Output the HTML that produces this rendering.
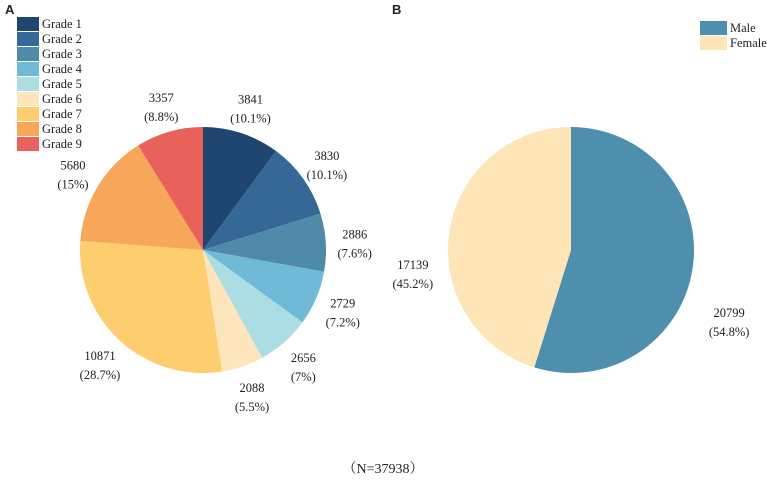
<!DOCTYPE html>
<html><head><meta charset="utf-8"><style>
body{margin:0;background:#fff;width:767px;height:481px;overflow:hidden}
svg text{font-family:"Liberation Serif",serif;font-size:12.5px;fill:#222}
</style></head><body>
<svg id="c" width="767" height="481">
<text x="5" y="14" style="font-family:'Liberation Sans',sans-serif;font-weight:bold;font-size:13px">A</text>
<text x="392" y="14" style="font-family:'Liberation Sans',sans-serif;font-weight:bold;font-size:13px">B</text>
<text x="383" y="473" text-anchor="middle" style="font-family:'Liberation Serif','Noto Serif CJK SC',serif;font-size:14px">（N=37938）</text>
</svg>
<script>
const gradeNames=["Grade 1","Grade 2","Grade 3","Grade 4","Grade 5","Grade 6","Grade 7","Grade 8","Grade 9"];
const gradeValues=[3841,3830,2886,2729,2656,2088,10871,5680,3357];
const gradePct=["10.1%","10.1%","7.6%","7.2%","7%","5.5%","28.7%","15%","8.8%"];
const gradeColors=["#1f4571","#356797","#4f8aa9","#6fbad6","#abdde2","#fde5bc","#fdcd6e","#f6a75a","#e8615a"];
const sexNames=["Male","Female"];
const sexValues=[20799,17139];
const sexPct=["54.8%","45.2%"];
const sexColors=["#4f8fae","#fde5b8"];
const svg=document.getElementById('c');
const NS='http://www.w3.org/2000/svg';
function mk(t,a){const e=document.createElementNS(NS,t);for(const k in a)e.setAttribute(k,a[k]);svg.appendChild(e);return e;}
function pie(cx,cy,r,vals,cols,pcts,prefix,lr,dy){
  const tot=vals.reduce((a,b)=>a+b,0);let acc=0;
  vals.forEach((v,i)=>{
    const a0=acc/tot*2*Math.PI;acc+=v;const a1=acc/tot*2*Math.PI;
    const x0=cx+r*Math.sin(a0),y0=cy-r*Math.cos(a0),x1=cx+r*Math.sin(a1),y1=cy-r*Math.cos(a1);
    const p=mk('path',{d:`M${cx},${cy}L${x0},${y0}A${r},${r} 0 ${a1-a0>Math.PI?1:0} 1 ${x1},${y1}Z`,fill:cols[i]});
    
    
    const am=(a0+a1)/2,lx=cx+lr*Math.sin(am),ly=cy-lr*Math.cos(am)+dy;
    const t=mk('text',{x:lx,y:ly-2,'text-anchor':'middle'});t.textContent=v;
    
    
    const t2=mk('text',{x:lx,y:ly+17,'text-anchor':'middle'});t2.textContent='('+pcts[i]+')';
    
    
  });
}
pie(203,250,123,gradeValues,gradeColors,gradePct,'grade',152,0);
pie(571,250,123,sexValues,sexColors,sexPct,'sex',160,45);
gradeNames.forEach((n,i)=>{
  const r=mk('rect',{x:17,y:17+i*15,width:22,height:14,fill:gradeColors[i]});
  
  
  const t=mk('text',{x:42,y:28+i*15});t.textContent=n;
  
  
});
sexNames.forEach((n,i)=>{
  const r=mk('rect',{x:700,y:21+i*15,width:27,height:14,fill:sexColors[i]});
  
  
  const t=mk('text',{x:730,y:32+i*15});t.textContent=n;
  
  
});
</script>
</body></html>
